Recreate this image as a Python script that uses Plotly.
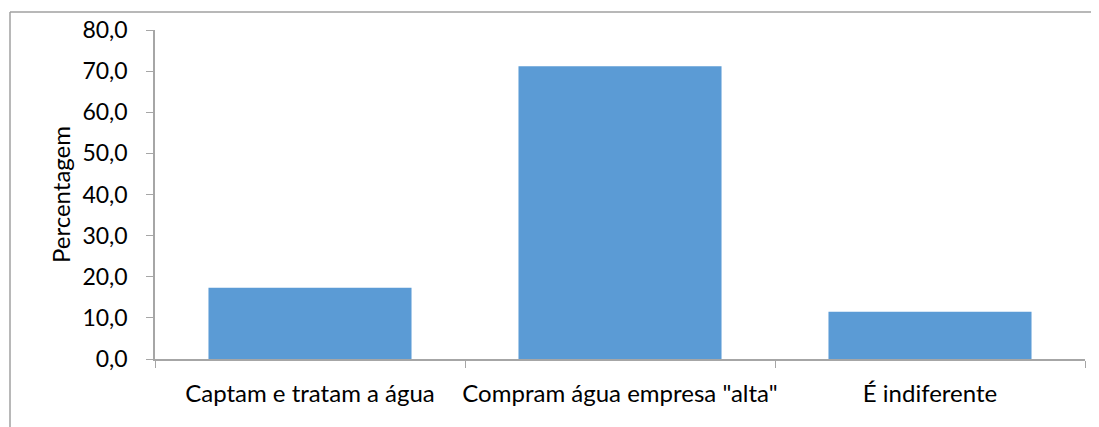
import plotly.graph_objects as go

categories = ["Captam e tratam a água", "Compram água empresa \"alta\"", "É indiferente"]
values = [17.3, 71.2, 11.5]
y_title = "Percentagem"

# page has an 8px body margin; size the figure to fit the window
OFF = 8
W, H = 1099 - OFF, 427 - OFF
L, R, T, B = 155 - OFF, 14, 30 - OFF, 68
pw = W - L - R
ph = H - T - B

fig = go.Figure(go.Bar(x=categories, y=values, marker=dict(color="#5B9BD5", line=dict(width=0))))

FONT = "Lato"
fig.update_layout(
    width=W, height=H,
    margin=dict(l=L, r=R, t=T, b=B, autoexpand=False),
    paper_bgcolor="white", plot_bgcolor="white",
    separators=",.",
    bargap=0.345,
    showlegend=False,
    font=dict(family=FONT, color="#000000", size=23),
)
fig.update_xaxes(
    showline=True, linecolor="#A6A6A6", linewidth=1.5,
    ticks="outside", tickson="boundaries", ticklen=7, tickcolor="#A6A6A6",
    tickfont=dict(size=24), showgrid=False, tickangle=0,
    ticklabelstandoff=12,
)
fig.update_yaxes(
    range=[0, 80], dtick=10, tickformat=".1f",
    showline=True, linecolor="#A6A6A6", linewidth=1.5,
    ticks="outside", ticklen=7, tickcolor="#A6A6A6",
    tickfont=dict(size=23), showgrid=False, zeroline=False,
    ticklabelstandoff=14,
    title=dict(text=y_title, font=dict(size=24), standoff=5),
)

def px_x(p):
    return (p - OFF - L) / pw

def px_y(p):
    return (H - B - (p - OFF)) / ph

fig.add_shape(type="line", xref="paper", yref="paper",
              x0=px_x(10), x1=px_x(1099 + 5), y0=px_y(12), y1=px_y(12),
              line=dict(color="#A0A0A0", width=1.5))
fig.add_shape(type="line", xref="paper", yref="paper",
              x0=px_x(10), x1=px_x(10), y0=px_y(12), y1=px_y(427 + 5),
              line=dict(color="#A0A0A0", width=1.5))

fig.write_html("out.html")
